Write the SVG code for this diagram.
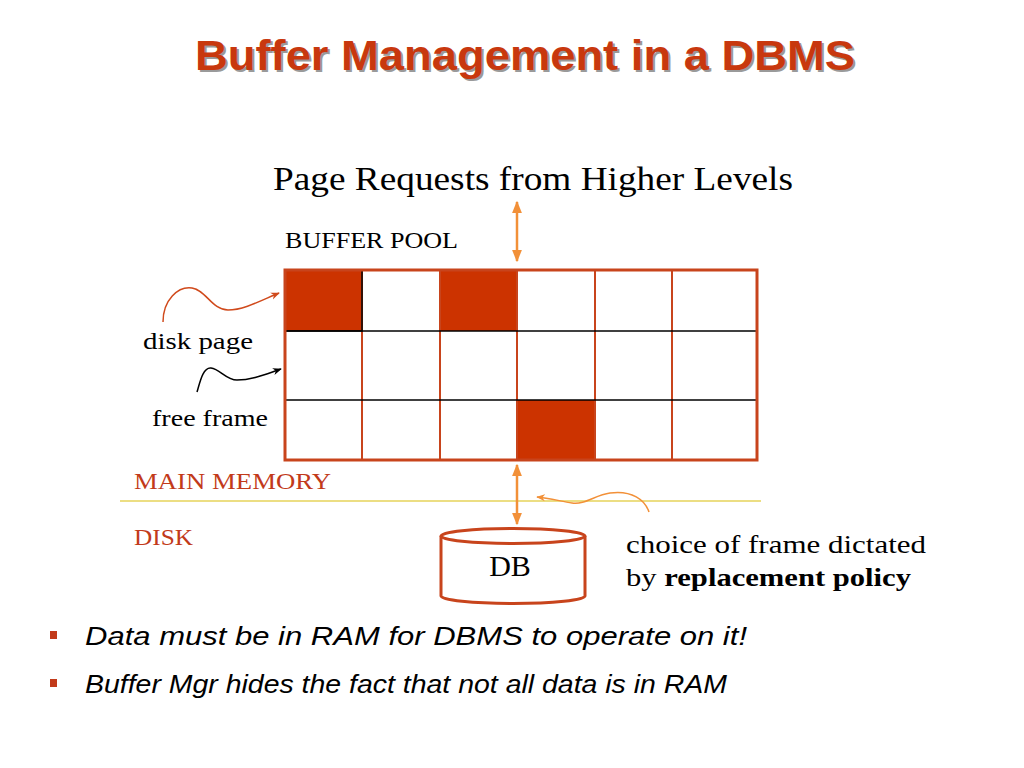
<svg xmlns="http://www.w3.org/2000/svg" width="1024" height="768" viewBox="0 0 1024 768">
<defs>
<style>
.serif{font-family:"Liberation Serif","Times New Roman",serif;fill:#000}
.red{fill:#C23A1A}
.full{fill:#CC3300}
.arr{fill:none;stroke:#F29038;stroke-width:2.5}
.bul{font-family:"Liberation Sans",Arial,sans-serif;font-style:italic;font-size:25px;fill:#000}
</style>
<marker id="ah" viewBox="0 0 10 10" refX="9" refY="5" markerWidth="5" markerHeight="5" orient="auto-start-reverse" markerUnits="strokeWidth">
<path d="M0,1 L10,5 L0,9 z" fill="#F29038"/>
</marker>
<marker id="ahr" viewBox="0 0 10 10" refX="9" refY="5" markerWidth="6" markerHeight="6" orient="auto" markerUnits="strokeWidth">
<path d="M0,1 L10,5 L0,9 L3,5 z" fill="#D04A1C"/>
</marker>
<marker id="ahk" viewBox="0 0 10 10" refX="9" refY="5" markerWidth="6" markerHeight="6" orient="auto" markerUnits="strokeWidth">
<path d="M0,1 L10,5 L0,9 L3,5 z" fill="#000"/>
</marker>
<marker id="aho" viewBox="0 0 10 10" refX="9" refY="5" markerWidth="6" markerHeight="6" orient="auto" markerUnits="strokeWidth">
<path d="M0,1 L10,5 L0,9 L3,5 z" fill="#F29038"/>
</marker>
</defs>
<rect width="1024" height="768" fill="#fff"/>

<g id="title">
<text x="527" y="72" text-anchor="middle" font-family="Liberation Sans,Arial,sans-serif" font-weight="bold" font-size="43" fill="#9a9a9a" textLength="660" lengthAdjust="spacingAndGlyphs">Buffer Management in a DBMS</text>
<text x="525" y="70" text-anchor="middle" font-family="Liberation Sans,Arial,sans-serif" font-weight="bold" font-size="43" fill="#C8380E" textLength="660" lengthAdjust="spacingAndGlyphs">Buffer Management in a DBMS</text>
</g>

<g id="requests">
<text class="serif" x="273" y="190" font-size="33" textLength="520" lengthAdjust="spacingAndGlyphs">Page Requests from Higher Levels</text>
</g>

<g id="buffer-pool-label">
<text class="serif" x="285" y="248" font-size="23" textLength="173" lengthAdjust="spacingAndGlyphs">BUFFER POOL</text>
</g>

<g id="buffer-pool">
<rect x="285" y="270" width="472" height="190" fill="#fff"/>
<rect class="full" x="285" y="270" width="77" height="61"/>
<rect class="full" x="440" y="270" width="77" height="61"/>
<rect class="full" x="517" y="400" width="78" height="60"/>
<g stroke="#C8441C" stroke-width="2">
<line x1="362" y1="270" x2="362" y2="460"/>
<line x1="440" y1="270" x2="440" y2="460"/>
<line x1="517" y1="270" x2="517" y2="460"/>
<line x1="595" y1="270" x2="595" y2="460"/>
<line x1="672" y1="270" x2="672" y2="460"/>
</g>
<g stroke="#000" stroke-width="1.5">
<line x1="285" y1="331" x2="757" y2="331"/>
<line x1="285" y1="400" x2="757" y2="400"/>
</g>
<rect x="285" y="270" width="77" height="61" fill="none" stroke="#000" stroke-width="1.5"/>
<rect x="285" y="270" width="472" height="190" fill="none" stroke="#C8441C" stroke-width="3"/>
</g>

<g id="disk-page-label">
<text class="serif" x="143" y="349" font-size="23" textLength="110" lengthAdjust="spacingAndGlyphs">disk page</text>
</g>
<g id="free-frame-label">
<text class="serif" x="152" y="426" font-size="23" textLength="116" lengthAdjust="spacingAndGlyphs">free frame</text>
</g>

<g id="divider">
<line x1="120" y1="501" x2="761" y2="501" stroke="#E6D35A" stroke-width="1.5"/>
<text x="134" y="489" font-family="Liberation Serif,'Times New Roman',serif" font-size="23" class="red" textLength="197" lengthAdjust="spacingAndGlyphs">MAIN MEMORY</text>
<text x="134" y="545" font-family="Liberation Serif,'Times New Roman',serif" font-size="23" class="red" textLength="59" lengthAdjust="spacingAndGlyphs">DISK</text>
</g>

<g id="db">
<path d="M441,536 L441,596 A72,7.5 0 0 0 585,596 L585,536" fill="#fff" stroke="#C8441C" stroke-width="3"/>
<ellipse cx="513" cy="536" rx="72" ry="7.5" fill="#fff" stroke="#C8441C" stroke-width="3"/>
<text class="serif" x="510" y="576" font-size="30" text-anchor="middle">DB</text>
</g>

<g id="policy-label">
<text class="serif" x="626" y="553" font-size="25" textLength="300" lengthAdjust="spacingAndGlyphs">choice of frame dictated</text>
<text class="serif" x="626" y="586" font-size="25" textLength="285" lengthAdjust="spacingAndGlyphs">by <tspan font-weight="bold">replacement policy</tspan></text>
</g>

<g id="connectors">
<line class="arr" x1="517" y1="202" x2="517" y2="261" marker-start="url(#ah)" marker-end="url(#ah)"/>
<line class="arr" x1="517" y1="465" x2="517" y2="524" marker-start="url(#ah)" marker-end="url(#ah)"/>
<path d="M163,322 C163,300 178,286 192,288 C206,290 212,310 228,310 C244,310 262,300 279,293" fill="none" stroke="#D04A1C" stroke-width="1.5" marker-end="url(#ahr)"/>
<path d="M197,392 C200,382 203,367 211,368 C220,369 226,380 237,380 C252,380 266,374 281,369" fill="none" stroke="#000" stroke-width="1.5" marker-end="url(#ahk)"/>
<path d="M649,512 C645,500 632,490 610,493 C595,495 585,505 572,503 C560,501 548,498 537,497" fill="none" stroke="#F29038" stroke-width="1.5" marker-end="url(#aho)"/>
</g>

<g id="bullets">
<rect x="50" y="631" width="7" height="8" fill="#C23A1A"/>
<rect x="50" y="679" width="7" height="8" fill="#C23A1A"/>
<text class="bul" x="85" y="645" textLength="662" lengthAdjust="spacingAndGlyphs">Data must be in RAM for DBMS to operate on it!</text>
<text class="bul" x="85" y="693" textLength="642" lengthAdjust="spacingAndGlyphs">Buffer Mgr hides the fact that not all data is in RAM</text>
</g>
</svg>
